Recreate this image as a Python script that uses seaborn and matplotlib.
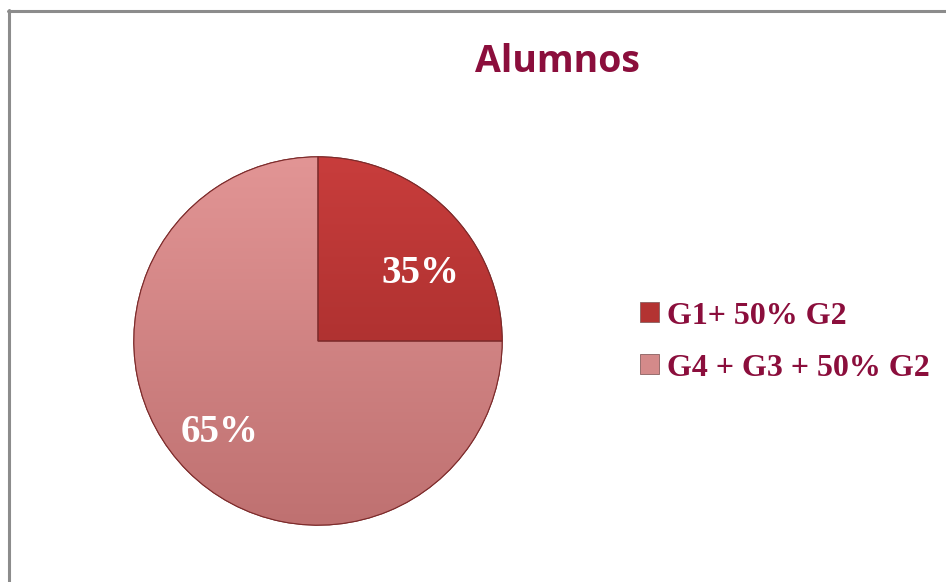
import numpy as np
import matplotlib
matplotlib.use("Agg")
import matplotlib.pyplot as plt
import seaborn as sns
from matplotlib.lines import Line2D

# data
groups = ["G1+ 50% G2", "G4 + G3 + 50% G2"]
slice_shares = [25, 75]          # share of the circle as drawn
shown_labels = ["35%", "65%"]    # percentages printed on the slices
title = "Alumnos"

# top / bottom colours of the gradient on each slice
slice_top = ["#c83d3c", "#e29595"]
slice_bottom = ["#982726", "#bf7171"]

sns.set_style("white")
plt.rcParams["font.family"] = ["DejaVu Sans"]

W, H = 946, 582
fig = plt.figure(figsize=(W / 100, H / 100), dpi=100)
fig.patch.set_facecolor("white")

# pie axes: centre (318, 341) px, radius 186 px
cx, cy, r = 318, 341, 186
ax = fig.add_axes([(cx - r) / W, (H - cy - r) / H, 2 * r / W, 2 * r / H])

wedges, texts = ax.pie(
    slice_shares,
    labels=shown_labels,
    startangle=90,
    counterclock=False,
    labeldistance=0.7,
    colors=slice_top,
    wedgeprops=dict(edgecolor="#7a2a2a", linewidth=0.8),
    textprops=dict(color="white", fontsize=28, fontweight="bold",
                   family=["Liberation Serif", "DejaVu Serif"]),
)
ax.set_xlim(-1.01, 1.01)
ax.set_ylim(-1.01, 1.01)
ax.set_aspect("equal")
ax.axis("off")

# vertical gradient inside each wedge
for w, top, bot, t in zip(wedges, slice_top, slice_bottom, texts):
    c1 = np.array(matplotlib.colors.to_rgb(top))
    c2 = np.array(matplotlib.colors.to_rgb(bot))
    f = np.linspace(0, 1, 256)[:, None]
    img = (c1 * (1 - f) + c2 * f)[:, None, :]
    img = np.repeat(img, 2, axis=1)
    im = ax.imshow(img, extent=(-1, 1, -1, 1), aspect="auto", zorder=w.get_zorder() + 0.1)
    im.set_clip_path(w)
    t.set_zorder(5)
    t.set_ha("center")
    t.set_va("center")
for w in wedges:
    edge = matplotlib.patches.Wedge(w.center, w.r, w.theta1, w.theta2,
                                    facecolor="none", edgecolor="#7d2b2b",
                                    linewidth=0.8, zorder=4)
    ax.add_patch(edge)

# the small slice label sits a little lower/right than the mid-angle
x0, y0 = texts[0].get_position()
texts[0].set_position((x0 + 0.06, y0 - 0.13))
x1, y1 = texts[1].get_position()
texts[1].set_position((x1 - 0.04, y1))

fig.text(557 / W, 1 - 62 / H, title, ha="center", va="center",
         fontsize=27, fontweight="bold", color="#8b0e3c",
         family=["Open Sans", "DejaVu Sans"])

handles = [matplotlib.patches.Patch(facecolor=c, edgecolor="#8a6060", linewidth=0.6)
           for c in ["#b33332", "#d48a8a"]]
leg = fig.legend(handles, groups, loc="center left",
                 bbox_to_anchor=(640 / W, 1 - 342 / H),
                 frameon=False, borderpad=0, borderaxespad=0,
                 handlelength=0.6, handleheight=0.6, handletextpad=0.25,
                 labelspacing=0.72,
                 prop=dict(family=["Liberation Serif", "DejaVu Serif"],
                           weight="bold", size=23))
for t in leg.get_texts():
    t.set_color("#8b0e3c")

# grey frame, only top and left visible
fig.add_artist(Line2D([8 / W, 1], [1 - 11 / H, 1 - 11 / H], color="#8c8c8c", lw=2.2))
fig.add_artist(Line2D([9 / W, 9 / W], [0, 1 - 10 / H], color="#8c8c8c", lw=2.2))

fig.savefig("out.png", dpi=100, facecolor="white")
